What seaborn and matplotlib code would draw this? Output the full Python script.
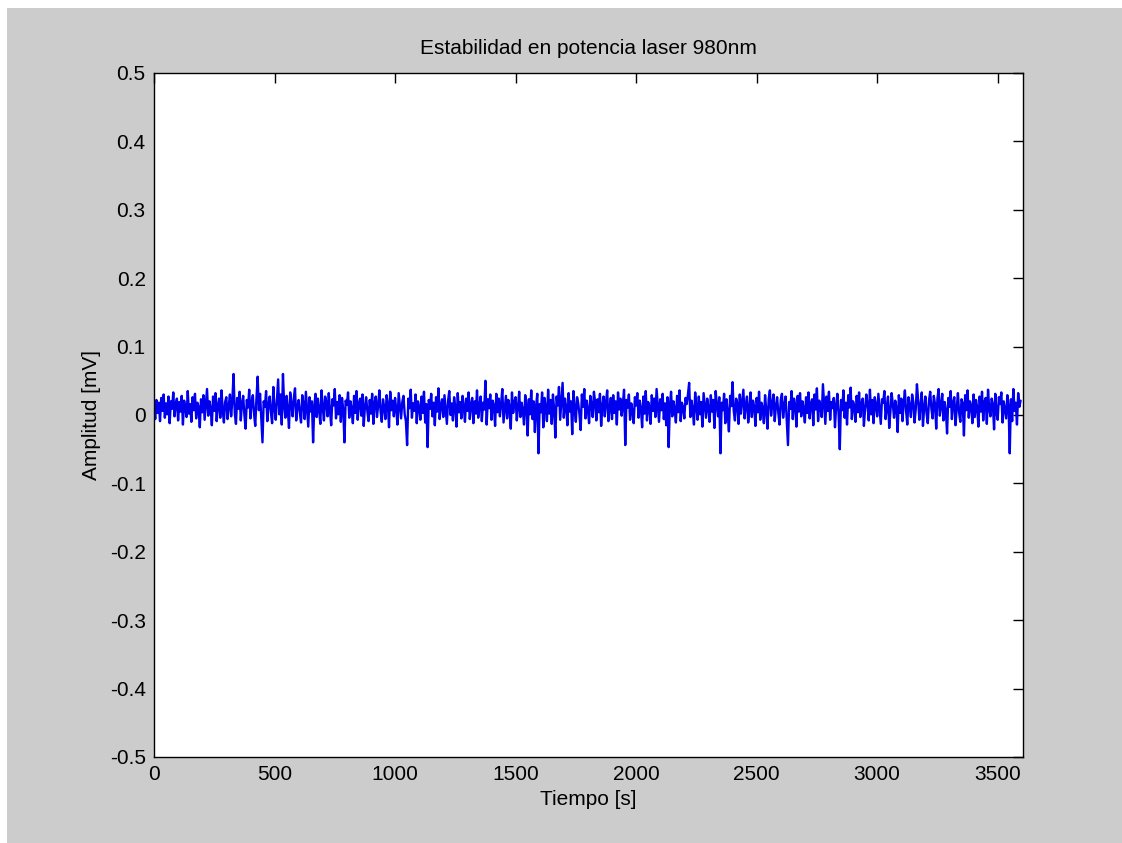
import numpy as np
import pandas as pd
import matplotlib
matplotlib.use("Agg")
import matplotlib.pyplot as plt
from matplotlib.patches import Rectangle
import seaborn as sns

# amplitude samples, one every 5 s, in units of 0.001 mV (one row = 100 s)
amp_rows = [
    [14, -6, 22, 3, 18, -9, 25, 6, 30, -4, 17, 1, 27, -12, 20, 9, 33, -2, 15, 24],
    [-8, 19, 5, 28, -14, 21, 11, -3, 35, 2, 16, -10, 26, 7, 31, -5, 18, 12, -18, 23],
    [4, 29, -7, 16, 38, -1, 20, 10, -15, 27, 6, 32, -9, 14, 24, -4, 36, 8, -11, 19],
    [26, -6, 13, 30, -2, 21, 60, 3, -13, 25, 9, 34, -8, 17, 28, 0, -20, 22, 11, 37],
    [-5, 18, 29, 2, -16, 24, 56, 7, 31, -3, -40, 20, 12, 35, -9, 15, 27, 4, -12, 41],
    [10, -7, 23, 52, 1, 30, -14, 60, 14, -4, 28, 8, -19, 33, 17, -2, 25, 39, -8, 12],
    [22, 3, -11, 29, 16, -6, 34, 9, -17, 26, 5, 20, -40, 13, 31, -3, 24, 7, -13, 36],
    [11, -8, 27, 18, -2, 32, 6, -15, 23, 14, 38, -5, 19, 1, 29, -10, 25, 8, -40, 21],
    [15, 33, -4, 20, 9, -12, 28, 3, 35, -7, 17, 24, -1, 30, -16, 12, 26, 6, -9, 22],
    [2, 31, -13, 18, 27, -3, 14, 36, 5, -10, 23, 11, -6, 29, 16, -18, 34, 7, 21, -2],
    [25, 8, -14, 32, 13, -5, 19, 28, 1, -9, -44, 24, 10, 37, -4, 17, 6, 30, -12, 20],
    [12, -7, 27, 3, 34, -11, 16, -47, 22, 9, 31, -2, 18, -15, 26, 5, 39, -6, 14, 23],
    [-3, 29, 7, -13, 21, 35, 0, 17, -8, 26, 11, -17, 32, 4, 19, -5, 28, 13, -10, 24],
    [6, 33, -6, 15, 25, -12, 20, 2, 36, -4, 13, 27, -9, 18, 8, 50, -14, 23, 10, 30],
    [-7, 21, 14, -16, 31, 4, 24, -2, 17, 38, -11, 9, 28, -5, 22, 12, -20, 33, 3, 19],
    [26, -8, 11, 34, -3, 18, 7, -14, 29, 15, -30, 23, 1, 36, -6, 20, -25, 13, 31, -56],
    [16, 4, 33, -18, 25, 10, -9, 37, 2, 22, -13, 30, 8, -33, 27, 14, 41, -7, 19, 47],
    [-4, 24, 11, -15, 32, 5, 20, -28, 35, 9, -10, 26, 17, 1, -22, 30, 12, 38, -5, 21],
    [7, -12, 28, 15, -3, 34, 19, -8, 23, 4, 31, -16, 13, 27, -2, 18, 36, -9, 10, 25],
    [-6, 29, 3, 20, -14, 33, 8, 24, -1, 16, 37, -44, 22, 11, 30, -7, 17, 5, -12, 26],
    [14, 32, -4, 21, 9, -18, 27, 2, 35, -8, 19, 12, -13, 29, 6, 24, -3, 38, 15, -10],
    [23, 7, 31, -6, 17, -15, 26, -47, 13, 34, -2, 20, 9, -11, 28, 4, 36, -9, 18, 11],
    [-5, 25, 16, 30, 47, -3, 21, 8, -14, 33, 12, -7, 27, 1, 19, -17, 32, 14, -4, 24],
    [10, -10, 29, 5, 22, -19, 35, 15, -2, 26, -56, 18, 7, 31, -12, 23, 3, -24, 28, 13],
    [48, 6, -8, 24, 17, -13, 30, 2, 20, 37, -5, 15, 27, -11, 9, 33, -3, 21, 12, -16],
    [25, 4, 34, -7, 18, 11, -12, 29, 7, -20, 23, 36, -1, 16, 30, -9, 13, 26, 3, -14],
    [22, 31, -4, 14, 27, -8, -44, 19, 9, 35, -6, 24, 15, -17, 28, 5, 32, -2, 20, 10],
    [-11, 26, 3, 33, -5, 17, 23, -15, 30, 8, 39, -9, 21, 12, -3, 45, 16, -13, 27, 6],
    [34, -7, 19, 10, 25, -18, 14, 31, 2, -50, 22, 7, 36, -4, 18, -14, 29, 11, 40, -6],
    [20, 13, -10, 28, 4, 33, -3, 17, 24, -16, 9, 30, 15, -8, 37, 1, 22, -12, 26, 14],
    [-2, 31, 8, -13, 23, 18, 35, -6, 12, 27, -19, 5, 32, 16, -4, 21, 10, -25, 29, 3],
    [24, -9, 17, 36, 6, -14, 26, 13, -3, 30, 19, -11, 8, 45, 22, -7, 15, 33, -16, 11],
    [27, 2, -12, 21, 34, 9, -5, 28, 16, -20, 24, 38, -1, 13, 31, -8, 19, 6, -27, 25],
    [12, 35, -6, 18, 26, -15, 10, 32, 3, -10, 23, 17, -30, 29, 7, 36, -4, 20, 14, -12],
    [30, -3, 22, 11, -17, 27, 5, 34, -8, 19, 25, -13, 37, 9, -2, 24, 15, -21, 31, 4],
    [-7, 26, 16, 33, -11, 20, 8, -5, 29, 14, -56, 23, -9, 38, 6, 18, -14, 32, 12, 21],
]
step_s = 5
title = "Estabilidad en potencia laser 980nm"
xticks = [0, 500, 1000, 1500, 2000, 2500, 3000, 3500]
yticks = [-0.5, -0.4, -0.3, -0.2, -0.1, 0, 0.1, 0.2, 0.3, 0.4, 0.5]
ytick_labels = ["-0.5", "-0.4", "-0.3", "-0.2", "-0.1", "0", "0.1", "0.2", "0.3", "0.4", "0.5"]

amp = np.array(amp_rows).ravel() / 1000.0
t = np.arange(len(amp)) * step_s
df = pd.DataFrame({"t": t, "amp": amp})

sns.set_style("white")
plt.rcParams["font.family"] = ["Liberation Sans", "DejaVu Sans"]
plt.rcParams["text.color"] = "black"
plt.rcParams["axes.labelcolor"] = "black"

fig = plt.figure(figsize=(11.22, 8.43), dpi=100, facecolor="white")
# grey MATLAB-style background with a thin white margin top/left
fig.patches.append(Rectangle((7 / 1122, 0), 1, 1 - 8 / 843, transform=fig.transFigure,
                             facecolor="#cccccc", edgecolor="none", zorder=-10))
ax = fig.add_axes([154 / 1122, 1 - 757 / 843, (1023 - 154) / 1122, (757 - 73) / 843])
ax.set_facecolor("white")

sns.lineplot(data=df, x="t", y="amp", ax=ax, color="#0000ee", linewidth=1.7,
             estimator=None, sort=False)

ax.set_xlim(0, 3605)
ax.set_ylim(-0.5, 0.5)
ax.set_xticks(xticks)
ax.set_xticklabels([str(v) for v in xticks])
ax.set_yticks(yticks)
ax.set_yticklabels(ytick_labels)
ax.tick_params(direction="in", length=7, width=1, top=True, right=True,
               labelsize=15, colors="black", pad=6)
for s in ax.spines.values():
    s.set_visible(True)
    s.set_color("black")
    s.set_linewidth(1)

ax.set_title(title, fontsize=15, pad=14, color="black")
ax.set_xlabel("Tiempo [s]", fontsize=15, labelpad=4)
ax.set_ylabel("Amplitud [mV]", fontsize=15, labelpad=6)

fig.savefig("out.png", dpi=100, facecolor=fig.get_facecolor())
